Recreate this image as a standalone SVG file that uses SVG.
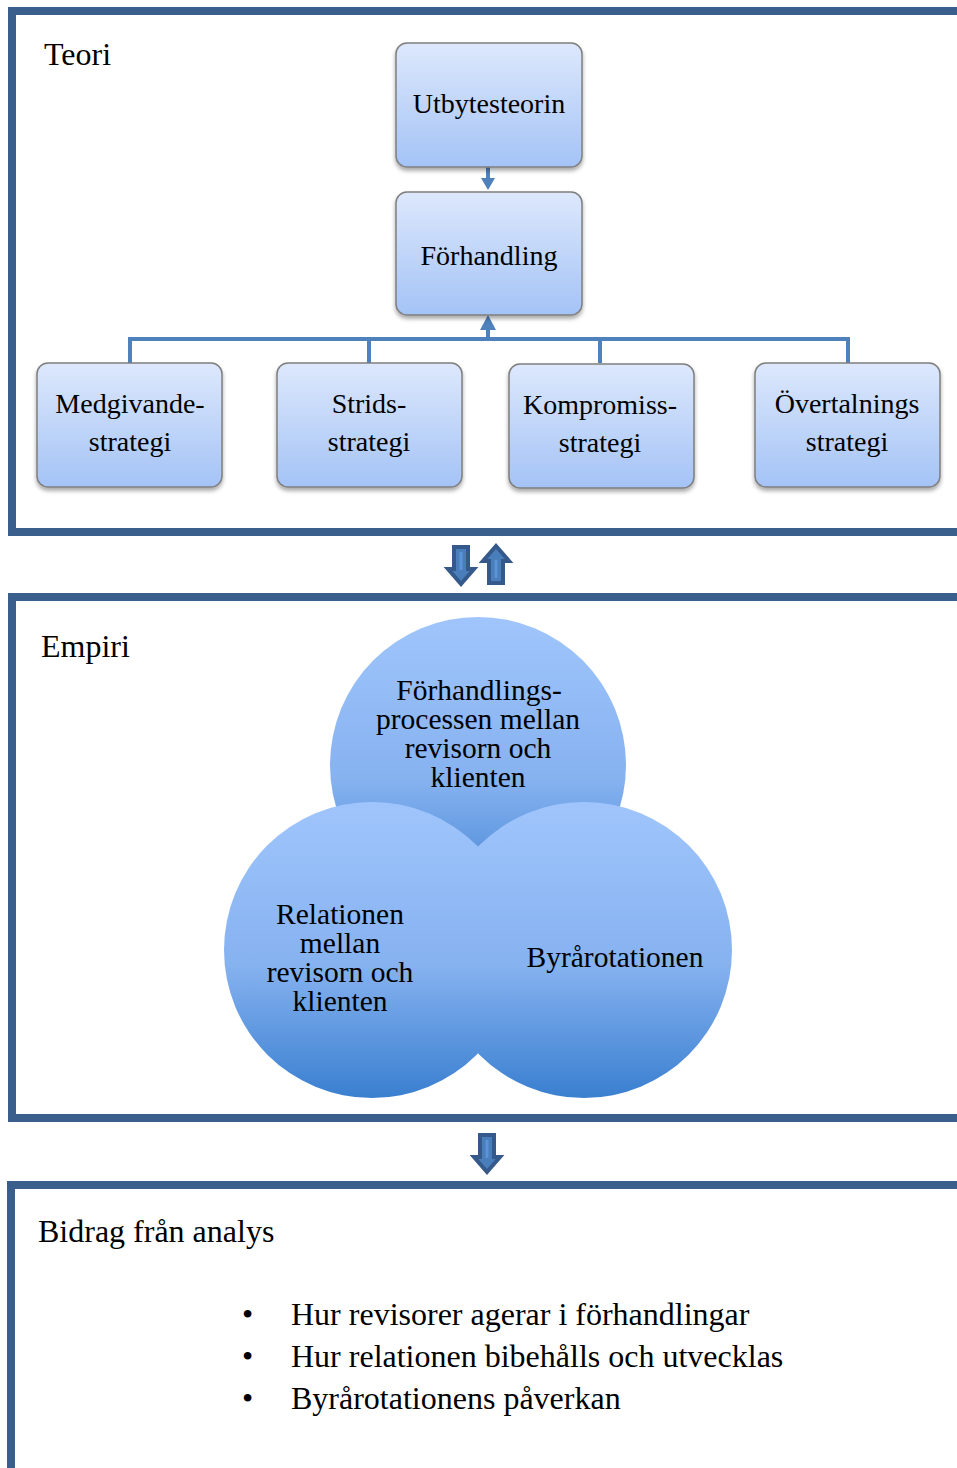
<svg xmlns="http://www.w3.org/2000/svg" width="957" height="1468" viewBox="0 0 957 1468">
  <defs>
    <linearGradient id="boxFill" x1="0" y1="0" x2="0" y2="1">
      <stop offset="0" stop-color="#dde8fc"/>
      <stop offset="1" stop-color="#a4c3f6"/>
    </linearGradient>
    <linearGradient id="ballFill" x1="0" y1="0" x2="0" y2="1">
      <stop offset="0" stop-color="#a0c5fc"/>
      <stop offset="0.55" stop-color="#86b2f0"/>
      <stop offset="1" stop-color="#3a7fd0"/>
    </linearGradient>
    <filter id="shadow" x="-10%" y="-10%" width="120%" height="130%">
      <feDropShadow dx="0" dy="3" stdDeviation="2" flood-color="#000" flood-opacity="0.35"/>
    </filter>
    <g id="blockDown">
      <path d="M-7,0 H7 V22 H13 L0,37 L-13,22 H-7 Z"/>
    </g>
  </defs>
  <style>
    .frame { fill: none; stroke: #3a5f8c; stroke-width: 8; }
    .box { fill: url(#boxFill); stroke: #7f7f7f; stroke-width: 1.5; filter: url(#shadow); }
    .ball { fill: url(#ballFill); }
    .t { font-family: "Liberation Serif", "Times New Roman", serif; fill: #000; }
    .lbl { font-size: 28px; text-anchor: middle; }
    .venn { font-size: 29.5px; text-anchor: middle; }
    .head { font-size: 32px; }
    .conn { stroke: #4f81bd; stroke-width: 4; fill: none; }
    .connhead { fill: #4f81bd; }
    .big { fill: #4a7ebb; stroke: #35598a; stroke-width: 4; stroke-linejoin: miter; }
  </style>

  <!-- section frames (open to the right) -->
  <g id="frame-teori">
    <path class="frame" d="M962,11 H12 V532 H962"/>
    <text class="t head" x="44" y="65">Teori</text>
  </g>
  <g id="frame-empiri">
    <path class="frame" d="M962,597 H12 V1118 H962"/>
    <text class="t head" x="41" y="657">Empiri</text>
  </g>
  <g id="frame-bidrag">
    <path class="frame" d="M962,1185 H11 V1475"/>
    <text class="t head" x="38" y="1242">Bidrag från analys</text>
  </g>

  <!-- connectors -->
  <g id="connectors">
    <line class="conn" x1="488" y1="167" x2="488" y2="180"/>
    <path class="connhead" d="M481,178 H495 L488,190 Z"/>
    <path class="conn" d="M130,363 V339 H848 V363 M369,339 V363 M600,339 V363 M488,339 V326"/>
    <path class="connhead" d="M480,330 H496 L488,315 Z"/>
    <!-- block arrows between sections -->
    <g class="big">
      <use href="#blockDown" transform="translate(461,547)"/>
      <use href="#blockDown" transform="translate(496,583) rotate(180)"/>
      <use href="#blockDown" transform="translate(487,1135)"/>
    </g>
    <g stroke="#5a93d8" stroke-width="3">
      <line x1="461" y1="552" x2="461" y2="570"/>
      <line x1="496" y1="560" x2="496" y2="578"/>
      <line x1="487" y1="1140" x2="487" y2="1158"/>
    </g>
  </g>

  <!-- theory nodes -->
  <g id="node-utbytesteorin">
    <rect class="box" x="396" y="43" width="186" height="124" rx="11"/>
    <text class="t lbl" x="489" y="113">Utbytesteorin</text>
  </g>
  <g id="node-forhandling">
    <rect class="box" x="396" y="192" width="186" height="123" rx="11"/>
    <text class="t lbl" x="489" y="265">Förhandling</text>
  </g>
  <g id="node-medgivande">
    <rect class="box" x="37" y="363" width="185" height="124" rx="11"/>
    <text class="t lbl" x="130" y="413">Medgivande-</text>
    <text class="t lbl" x="130" y="451">strategi</text>
  </g>
  <g id="node-strids">
    <rect class="box" x="277" y="363" width="185" height="124" rx="11"/>
    <text class="t lbl" x="369" y="413">Strids-</text>
    <text class="t lbl" x="369" y="451">strategi</text>
  </g>
  <g id="node-kompromiss">
    <rect class="box" x="509" y="364" width="185" height="124" rx="11"/>
    <text class="t lbl" x="600" y="414">Kompromiss-</text>
    <text class="t lbl" x="600" y="452">strategi</text>
  </g>
  <g id="node-overtalnings">
    <rect class="box" x="755" y="363" width="185" height="124" rx="11"/>
    <text class="t lbl" x="847" y="413">Övertalnings</text>
    <text class="t lbl" x="847" y="451">strategi</text>
  </g>

  <!-- empirical focus areas -->
  <g id="node-process">
    <circle class="ball" cx="478" cy="765" r="148"/>
  </g>
  <g id="node-relation">
    <circle class="ball" cx="372" cy="950" r="148"/>
  </g>
  <g id="node-rotation">
    <circle class="ball" cx="584" cy="950" r="148"/>
  </g>
  <g id="labels-venn" class="t venn">
    <text x="479" y="700">Förhandlings-</text>
    <text x="478" y="729">processen mellan</text>
    <text x="478" y="758">revisorn och</text>
    <text x="478" y="787">klienten</text>
    <text x="340" y="924">Relationen</text>
    <text x="340" y="953">mellan</text>
    <text x="340" y="982">revisorn och</text>
    <text x="340" y="1011">klienten</text>
    <text x="615" y="967">Byrårotationen</text>
  </g>

  <!-- analysis contributions -->
  <g id="list-bidrag" class="t head">
    <text x="242" y="1325">•</text>
    <text x="291" y="1325">Hur revisorer agerar i förhandlingar</text>
    <text x="242" y="1367">•</text>
    <text x="291" y="1367">Hur relationen bibehålls och utvecklas</text>
    <text x="242" y="1409">•</text>
    <text x="291" y="1409">Byrårotationens påverkan</text>
  </g>
</svg>
